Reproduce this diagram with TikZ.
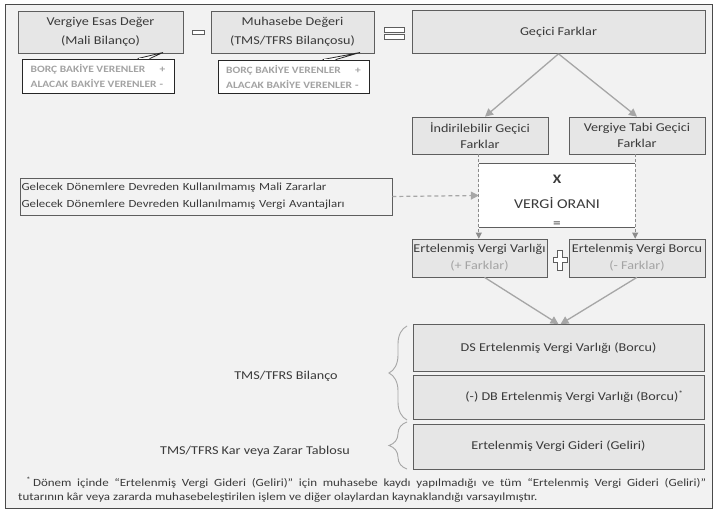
\documentclass[tikz,border=0pt]{standalone}
\usepackage{fontspec}
\setmainfont[FakeStretch=1.18]{Carlito}
\usetikzlibrary{arrows.meta,decorations.pathreplacing,calc}
\definecolor{bgc}{HTML}{F2F2F2}
\definecolor{framec}{HTML}{4A4A4A}
\definecolor{boxc}{HTML}{E6E6E6}
\definecolor{bordc}{HTML}{5E5E5E}
\definecolor{arrc}{HTML}{A6A6A6}
\definecolor{darrc}{HTML}{8C8C8C}
\definecolor{txtc}{HTML}{3A3A3A}
\definecolor{lgtxt}{HTML}{A3A3A3}
\begin{document}
\begin{tikzpicture}[x=1pt,y=-1pt,
  box/.style={draw=bordc,fill=boxc,line width=0.7pt,inner sep=0pt,align=center,text=txtc,font=\fontsize{12}{16}\selectfont},
  callout/.style={draw=black!85,fill=white,line width=0.8pt,inner xsep=1pt,inner ysep=0pt,align=left,text=lgtxt,font=\fontsize{9.7}{15}\selectfont\bfseries},
  arr/.style={draw=arrc,line width=1.3pt,-{Triangle[length=8pt,width=8pt]}},
  varr/.style={draw=darrc,line width=0.8pt,dash pattern=on 3pt off 2pt,-{Triangle[length=6pt,width=6pt]}},
  harr/.style={draw=arrc,line width=1.2pt,dash pattern=on 4pt off 3pt,-{Triangle[length=8pt,width=8pt]}},
  sym/.style={draw=bordc,fill=white,line width=0.6pt},
  lbl/.style={text=txtc,font=\fontsize{12}{14}\selectfont,inner sep=0pt},
  bracestyle/.style={draw=arrc,line width=0.9pt,decorate,decoration={brace,amplitude=18pt}}
]
\useasboundingbox (0,0) rectangle (724,514);
\fill[white] (0,0) rectangle (724,514);
\draw[draw=framec,fill=bgc,line width=0.9pt] (5,4) rectangle (712,508);

% top row
\node[box,minimum width=165pt,minimum height=42pt,font=\fontsize{12}{19}\selectfont] (b1) at (100.5,32) {Vergiye Esas Değer\\(Mali Bilanço)};
\node[box,minimum width=163pt,minimum height=42pt,font=\fontsize{12}{19}\selectfont] (b2) at (292.5,32) {Muhasebe Değeri\\(TMS/TFRS Bilançosu)};
\node[box,minimum width=293pt,minimum height=43pt] (g) at (558.5,32) {Geçici Farklar};

% minus and equals symbols
\draw[sym] (192,30.5) rectangle (204,34.5);
\draw[sym] (384,27) rectangle (404,32);
\draw[sym] (384,34) rectangle (404,39);

% callouts
\node[callout,minimum width=152pt,minimum height=34pt] (c1) at (98,76)
  {\makebox[129pt][l]{BORÇ BAKİYE VERENLER}+\\\makebox[129pt][l]{ALACAK BAKİYE VERENLER}-};
\node[callout,minimum width=151pt,minimum height=33pt] (c2) at (293.5,76.5)
  {\makebox[129pt][l]{BORÇ BAKİYE VERENLER}+\\\makebox[129pt][l]{ALACAK BAKİYE VERENLER}-};
\coordinate (t1) at (163,52.5);
\coordinate (t2) at (360,52.5);
\filldraw[fill=white,draw=black!85,line width=0.8pt] ($(c1.north west)+(116,0)$) -- (t1) -- ($(c1.north west)+(128,0)$);
\draw[white,line width=1.3pt] ($(c1.north west)+(117.5,0)$) -- ($(c1.north west)+(126.5,0)$);
\filldraw[fill=white,draw=black!85,line width=0.8pt] ($(c2.north west)+(105,0)$) -- (t2) -- ($(c2.north west)+(118,0)$);
\draw[white,line width=1.3pt] ($(c2.north west)+(106.5,0)$) -- ($(c2.north west)+(116.5,0)$);

% second row
\node[box,minimum width=136pt,minimum height=37pt] (i1) at (480,135.5) {İndirilebilir Geçici\\Farklar};
\node[box,minimum width=136pt,minimum height=37pt] (i2) at (637,135.5) {Vergiye Tabi Geçici\\Farklar};
\draw[arr] (g.south) -- ($(i1.north)+(5,0)$);
\draw[arr] (g.south) -- (i2.north);

% vergi orani box
\node[fill=white,minimum width=156pt,minimum height=63pt,inner sep=0pt] (vo) at (557,195.5) {};
\draw[bordc,line width=0.7pt] (vo.north west) -- (vo.north east);
\draw[bordc,line width=0.7pt] (vo.south west) -- (vo.south east);
\node[lbl,font=\fontsize{13}{14}\selectfont\bfseries] (vox) at (557,179) {X};
\node[lbl,font=\fontsize{13.5}{14}\selectfont] (von) at (557,203) {VERGİ ORANI};

% left text box
\node[draw=bordc,fill=bgc,line width=0.7pt,minimum width=372pt,minimum height=37pt,inner xsep=1pt,align=left,text=txtc,font=\fontsize{10.9}{17}\selectfont,text width=369pt] (lb) at (206,196.5)
  {Gelecek Dönemlere Devreden Kullanılmamış Mali Zararlar\\Gelecek Dönemlere Devreden Kullanılmamış Vergi Avantajları};
\draw[harr] (lb.east) -- (vo.west);

% third row
\node[box,minimum width=135pt,minimum height=38pt,font=\fontsize{12}{17}\selectfont] (e1) at (479.5,258) {Ertelenmiş Vergi Varlığı\\\textcolor{lgtxt}{(+ Farklar)}};
\node[box,minimum width=136pt,minimum height=38pt,font=\fontsize{12}{17}\selectfont] (e2) at (637,258) {Ertelenmiş Vergi Borcu\\\textcolor{lgtxt}{(- Farklar)}};
\draw[varr] (i1.south -| vo.west) -- (e1.north -| vo.west);
\draw[varr] (i2.south -| vo.east) -- (e2.north -| vo.east);
\node[lbl,font=\fontsize{13}{14}\selectfont] (voe) at (557,225) {=};

% plus symbol
\draw[sym] (557.5,250) -- (562.5,250) -- (562.5,257.5) -- (567,257.5) -- (567,262.5) -- (562.5,262.5) -- (562.5,270) -- (557.5,270) -- (557.5,262.5) -- (553,262.5) -- (553,257.5) -- (557.5,257.5) -- cycle;

% bottom boxes
\node[box,minimum width=291pt,minimum height=47pt] (ds) at (558.5,348) {DS Ertelenmiş Vergi Varlığı (Borcu)};
\node[box,minimum width=291pt,minimum height=44pt] (db) at (558.5,397) {\hspace*{32pt}(-) DB Ertelenmiş Vergi Varlığı (Borcu)\textsuperscript{*}};
\node[box,minimum width=291pt,minimum height=45pt] (gd) at (558.5,446.5) {Ertelenmiş Vergi Gideri (Geliri)};
\draw[arr] ($(e1.south)+(5,0)$) -- (ds.north);
\draw[arr] (e2.south) -- ($(ds.north)+(2,0)$);

% braces and labels
\draw[bracestyle] (407,420) -- (407,326);
\draw[bracestyle] (407,469) -- (407,422);
\node[lbl] (lbil) at (286,376) {TMS/TFRS Bilanço};
\node[lbl] (lkz) at (255,451) {TMS/TFRS Kar veya Zarar Tablosu};

% footnote
\node[lbl,anchor=base west,font=\fontsize{11}{13}\selectfont] (fn1) at (26,486) {\makebox[680pt][s]{\textsuperscript{*}\,Dönem içinde “Ertelenmiş Vergi Gideri (Geliri)” için muhasebe kaydı yapılmadığı ve tüm “Ertelenmiş Vergi Gideri (Geliri)”}};
\node[lbl,anchor=base west,font=\fontsize{11}{13}\selectfont] (fn2) at (18,500) {tutarının kâr veya zararda muhasebeleştirilen işlem ve diğer olaylardan kaynaklandığı varsayılmıştır.};
\end{tikzpicture}
\end{document}
